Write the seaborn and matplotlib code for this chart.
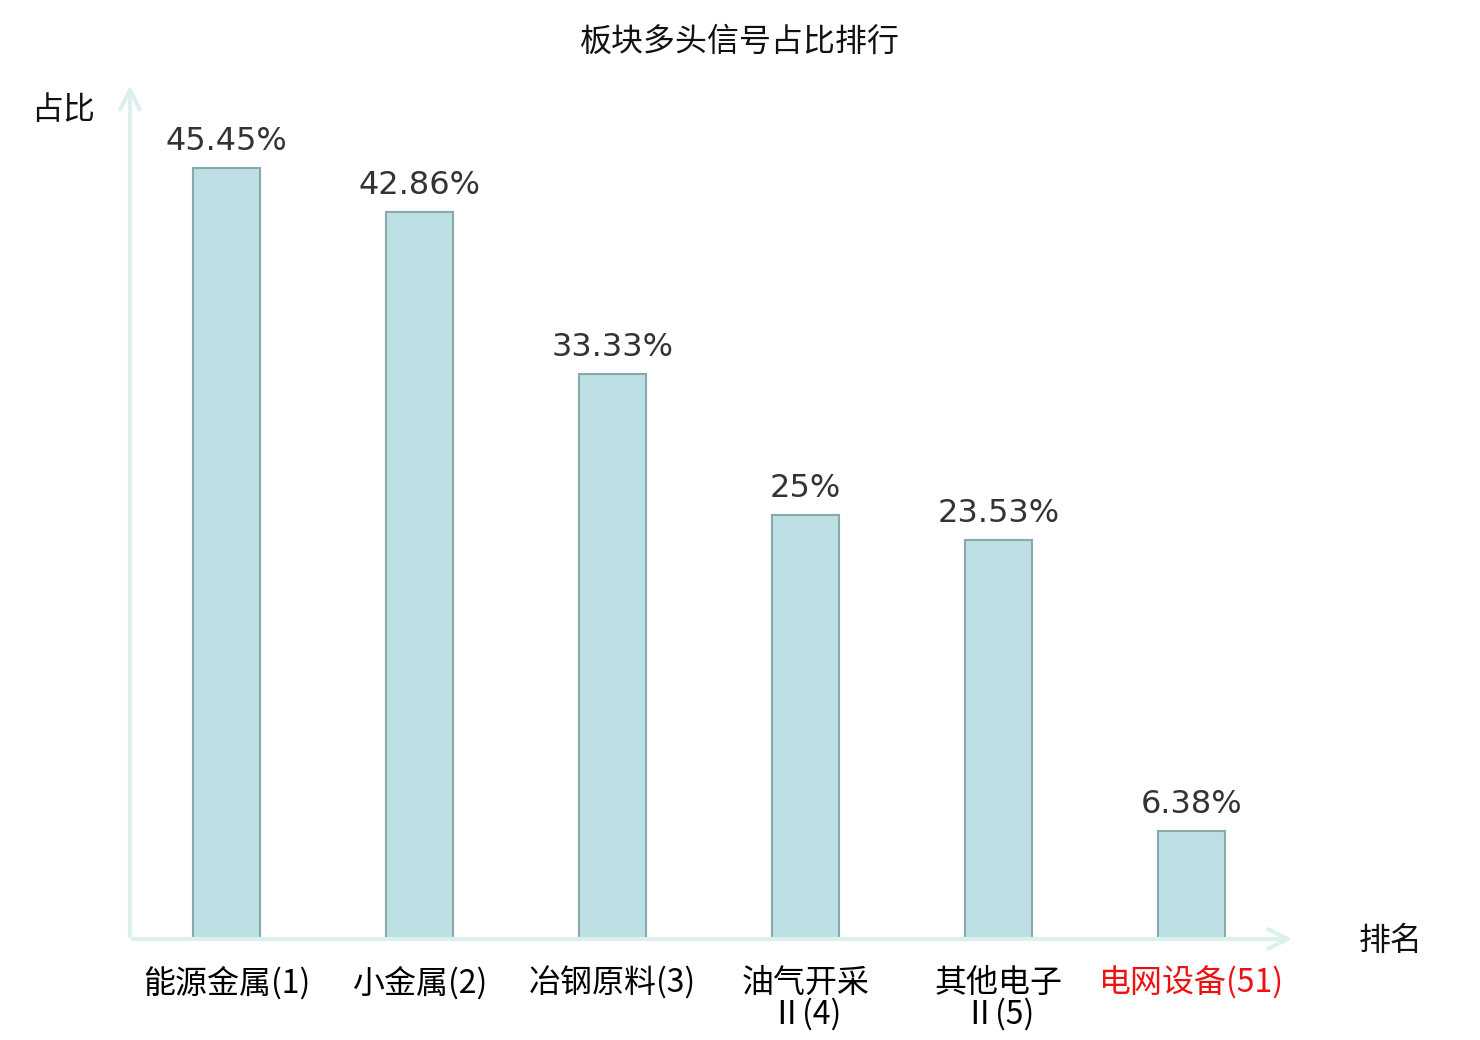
import matplotlib
matplotlib.use("Agg")
import matplotlib.pyplot as plt
import seaborn as sns
import pandas as pd

categories = ["能源金属(1)", "小金属(2)", "冶钢原料(3)", "油气开采\nⅡ(4)", "其他电子\nⅡ(5)", "电网设备(51)"]
values = [45.45, 42.86, 33.33, 25, 23.53, 6.38]
label_colors = ["#000000", "#000000", "#000000", "#000000", "#000000", "#ee1111"]
title = "板块多头信号占比排行"
ylabel = "占比"
xlabel = "排名"

sns.set_theme(style="white")
plt.rcParams['font.family'] = ['Noto Sans CJK SC', 'DejaVu Sans']

df = pd.DataFrame({"cat": categories, "val": values})

fig = plt.figure(figsize=(14.8, 10.4), dpi=100)
ax = fig.add_axes([130/1480, 1-939/1040, 1158/1480, 848/1040])

sns.barplot(data=df, x="cat", y="val", ax=ax, color="#bce0e3", saturation=1,
            width=0.35, edgecolor="#8aa9aa", linewidth=1.5)

ax.set_xlim(-0.5, 5.5)
ax.set_ylim(0, 50)
for s in ax.spines.values():
    s.set_visible(False)
ax.set_yticks([])
ax.set_xlabel("")
ax.set_ylabel("")
ax.tick_params(axis='x', length=0, pad=20, labelsize=23)
ax.set_xticks(range(len(categories)))
ax.set_xticklabels(categories, linespacing=0.95)
for lbl, c in zip(ax.get_xticklabels(), label_colors):
    lbl.set_color(c)

for i, v in enumerate(values):
    ax.annotate(f"{v:g}%", (i, v), xytext=(0, 8), textcoords="offset points",
                ha="center", va="bottom", fontsize=23, color="#333333",
                family=['DejaVu Sans'])

axis_color = "#dcf1ee"
ax.annotate("", xy=(1.006, 0), xytext=(0, 0), xycoords="axes fraction",
            arrowprops=dict(arrowstyle="->", color=axis_color, lw=3, mutation_scale=35),
            annotation_clip=False)
ax.annotate("", xy=(0, 1.01), xytext=(0, 0), xycoords="axes fraction",
            arrowprops=dict(arrowstyle="->", color=axis_color, lw=3, mutation_scale=35),
            annotation_clip=False)

fig.text(740/1480, 1-42/1040, title, ha="center", va="center", fontsize=23, color="#111111")
fig.text(63/1480, 1-110/1040, ylabel, ha="center", va="center", fontsize=23, color="#111111")
fig.text(1391/1480, 1-941/1040, xlabel, ha="center", va="center", fontsize=23, color="#111111")

fig.savefig("out.png", dpi=100, facecolor="white")
